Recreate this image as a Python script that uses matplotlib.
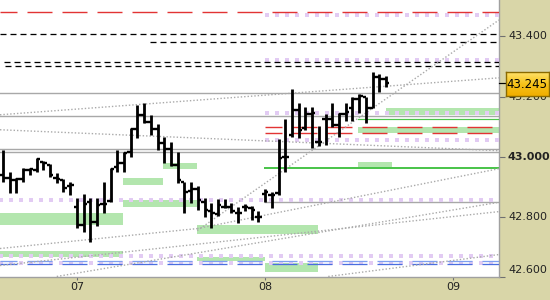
import matplotlib
matplotlib.use('Agg')
import matplotlib.pyplot as plt
import numpy as np
from matplotlib.patches import Rectangle
from matplotlib.colors import LinearSegmentedColormap

plt.rcParams['lines.scale_dashes'] = False
plt.rcParams['font.family'] = ['DejaVu Sans']

# ---------------- data ----------------
opens = [42.940, 42.930, 42.924, 42.927, 42.957, 42.957, 42.983, 42.974, 42.930, 42.924,
         42.904, 42.834, 42.774, 42.851, 42.784, 42.844, 42.854, 42.967, 42.980, 43.017,
         43.093, 43.140, 43.116, 43.093, 43.047, 43.027, 42.974, 42.917, 42.887, 42.891,
         42.851, 42.818, 42.811, 42.834, 42.834, 42.814, 42.834, 42.831, 42.801, 42.877,
         42.874, 42.881, 43.000, 43.073, 43.156, 43.096, 43.143, 43.050, 43.126, 43.126,
         43.106, 43.143, 43.163, 43.193, 43.199, 43.163, 43.266, 43.259]
highs = [43.023, 42.950, 42.930, 42.964, 42.964, 42.997, 42.987, 42.977, 42.947, 42.927,
         42.917, 42.864, 42.877, 42.864, 42.864, 42.917, 42.964, 43.023, 43.017, 43.096,
         43.173, 43.179, 43.140, 43.110, 43.066, 43.050, 43.017, 42.917, 42.917, 42.901,
         42.864, 42.847, 42.861, 42.861, 42.847, 42.834, 42.844, 42.837, 42.818, 42.894,
         42.884, 43.060, 43.126, 43.226, 43.179, 43.166, 43.166, 43.103, 43.143, 43.179,
         43.146, 43.179, 43.199, 43.209, 43.199, 43.282, 43.276, 43.269]
lows = [42.917, 42.881, 42.881, 42.917, 42.940, 42.950, 42.957, 42.934, 42.914, 42.884,
        42.874, 42.764, 42.751, 42.718, 42.768, 42.814, 42.851, 42.950, 42.950, 43.000,
        43.063, 43.113, 43.073, 43.023, 42.980, 42.970, 42.914, 42.814, 42.847, 42.824,
        42.801, 42.764, 42.804, 42.828, 42.814, 42.781, 42.818, 42.791, 42.784, 42.851,
        42.828, 42.874, 42.950, 43.066, 43.063, 43.090, 43.030, 43.037, 43.040, 43.100,
        43.066, 43.120, 43.120, 43.146, 43.113, 43.163, 43.216, 43.232]
closes = [42.930, 42.924, 42.927, 42.957, 42.960, 42.993, 42.980, 42.940, 42.927, 42.897,
          42.907, 42.774, 42.844, 42.784, 42.841, 42.844, 42.960, 42.980, 43.013, 43.093,
          43.140, 43.116, 43.093, 43.047, 43.027, 42.974, 42.924, 42.884, 42.891, 42.857,
          42.824, 42.814, 42.841, 42.834, 42.818, 42.814, 42.834, 42.824, 42.801, 42.884,
          42.874, 42.997, 43.000, 43.156, 43.090, 43.143, 43.146, 43.050, 43.126, 43.106,
          43.143, 43.149, 43.193, 43.203, 43.163, 43.266, 43.259, 43.245]

day_labels = ['07', '08', '09']
day_bars = [11, 39, 67]
price_ticks = [42.6, 42.8, 43.0, 43.2, 43.4]
last_price = 43.245

# horizontal levels (price) and the bar index where each begins
red_levels = [43.480, 43.098, 43.078]
red_starts = [None, 39, 39]
black_levels = [43.408, 43.381, 43.314, 43.301]
black_starts = [None, 21.9, 0.15, 0.3]
gray_levels = [43.212, 43.135, 43.026, 43.017, 42.851]
gray_starts = [None, None, None, None, 39]
lavender_levels = [43.471, 43.320, 43.147, 43.054, 42.855, 42.671, 42.648]
lavender_starts = [39, 39, 39, 39, None, None, None]
blue_levels = [42.652, 42.644]
green_levels = [43.125, 42.962]
green_starts = [52.8, 39]

# zones: (start bar, end bar, low price, high price); None = edge of chart
zone_start = [57.0, 52.8, 52.8, 17.86, 23.8, None, 17.86, 28.8, None, 28.8, 39.0]
zone_end = [None, None, 57.9, 23.8, 28.8, 17.86, 28.8, 46.9, 17.86, 39.0, 46.9]
zone_low = [43.139, 43.080, 42.964, 42.907, 42.960, 42.774, 42.834, 42.744, 42.668, 42.652, 42.618]
zone_high = [43.163, 43.100, 42.984, 42.930, 42.980, 42.814, 42.857, 42.774, 42.685, 42.668, 42.648]

# dotted trend lines: (bar0, price0, bar1, price1); None = chart edge
trend_x0 = [None, None, 28.9, 28.9, None, 8.0, None, 48.4]
trend_p0 = [43.1395, 43.0897, 42.7544, 42.7610, 42.6947, 42.6017, 42.6382, 42.6017]
trend_x1 = [None, None, None, None, 28.9, 73.5, None, None]
trend_p1 = [43.2623, 43.0200, 43.4548, 42.9602, 42.7610, 42.8474, 42.8175, 42.6747]

# ---------------- figure ----------------
PT = 0.72  # points per pixel at dpi 100
khaki = '#d9d6a8'
fig = plt.figure(figsize=(5.5, 3), dpi=100)
fig.patch.set_facecolor(khaki)
ax = fig.add_axes([0, 23 / 300, 499 / 550, 277 / 300])
ax.set_facecolor('white')
XL, XR = -0.446, 73.81
ax.set_xlim(XL, XR)
ax.set_ylim(42.6017, 43.5212)

def sx(v, default):
    return default if v is None else v

# zones
for s, e, lo, hi in zip(zone_start, zone_end, zone_low, zone_high):
    s = sx(s, XL - 1)
    e = sx(e, XR + 1)
    ax.add_patch(Rectangle((s, lo), e - s, hi - lo, facecolor='#b3e6ae',
                           edgecolor='none', zorder=1))

# gray solid
for p, s in zip(gray_levels, gray_starts):
    ax.plot([sx(s, XL - 1), XR + 1], [p, p], color='#a8a8a8', lw=1.4 * PT, zorder=2)

# lavender square-dotted
for p, s in zip(lavender_levels, lavender_starts):
    ax.plot([sx(s, XL - 1), XR + 1], [p, p], color='#e2cbf3', lw=4 * PT,
            linestyle=(0, (4 * PT, 6 * PT)), solid_capstyle='butt',
            dash_capstyle='butt', zorder=3)

# blue dashed
for p, c in zip(blue_levels, ['#7f9ff0', '#4a6ee0']):
    ax.plot([XL, XR + 1], [p, p], color=c, lw=1.3 * PT,
            linestyle=(8 * PT, (25 * PT, 10 * PT)), dash_capstyle='butt', zorder=4)

# red dashed
for p, s in zip(red_levels, red_starts):
    ax.plot([sx(s, XL), XR + 1], [p, p], color='#e23434', lw=1.4 * PT,
            linestyle=(8 * PT, (25 * PT, 10 * PT)), dash_capstyle='butt', zorder=4)

# black dashed
for p, s in zip(black_levels, black_starts):
    ax.plot([sx(s, XL), XR + 1], [p, p], color='black', lw=1.3 * PT,
            linestyle=(0, (6 * PT, 4 * PT)), dash_capstyle='butt', zorder=4)

# green solid
for p, s, w in zip(green_levels, green_starts, [1.2, 2.0]):
    ax.plot([s, XR + 1], [p, p], color='#4cc44c', lw=w * PT, zorder=4)

# dotted trend lines
for x0, p0, x1, p1 in zip(trend_x0, trend_p0, trend_x1, trend_p1):
    ax.plot([sx(x0, XL), sx(x1, XR)], [p0, p1], color='#aaaaaa', lw=1.4 * PT,
            linestyle=(0, (1.4 * PT, 2.0 * PT)), dash_capstyle='butt', zorder=5)

# OHLC bars
idx = np.arange(len(opens))
ax.vlines(idx, lows, highs, color='black', lw=2.8 * PT, zorder=10)
ax.hlines(opens, idx - 0.5, idx, color='black', lw=2.4 * PT, zorder=10)
ax.hlines(closes, idx, idx + 0.5, color='black', lw=2.4 * PT, zorder=10)

# spines
for s in ['top', 'left']:
    ax.spines[s].set_visible(False)
for s in ['right', 'bottom']:
    ax.spines[s].set_color('#a0a0a0')
    ax.spines[s].set_linewidth(1.0)

# y ticks on the right
ax.yaxis.tick_right()
ax.set_yticks(price_ticks)
ax.set_yticklabels([])
ax.tick_params(axis='y', length=6 * PT, width=0.8, color='#707070', direction='out')
ytr = ax.get_yaxis_transform()
for p in price_ticks:
    yy = p if p > 42.61 else p + 7 / 301.25
    ax.text(508 / 499, yy, f'{p:.3f}', transform=ytr, ha='left', va='center',
            fontsize=8, color='#222222',
            fontweight='bold' if abs(p - 43.0) < 1e-9 else 'normal', clip_on=False,
            zorder=20)

# x ticks
ax.set_xticks(day_bars)
ax.set_xticklabels(day_labels, fontsize=8, color='#222222')
ax.tick_params(axis='x', length=3 * PT, width=0.8, color='#707070', pad=1.5)

# last price marker
ax.plot([XR, XR + 6 / 6.72], [last_price, last_price], color='black', lw=1.2 * PT,
        clip_on=False, zorder=20)
bx = fig.add_axes([505.5 / 550, (300 - 96) / 300, 43.5 / 550, 24 / 300])
cmap = LinearSegmentedColormap.from_list('gold', ['#ffe26a', '#f6c21a', '#f0ae00'])
bx.imshow(np.linspace(0, 1, 50).reshape(-1, 1), aspect='auto', cmap=cmap,
          extent=(0, 1, 0, 1), origin='upper')
bx.set_xlim(0, 1)
bx.set_ylim(0, 1)
bx.set_xticks([])
bx.set_yticks([])
for s in bx.spines.values():
    s.set_color('#8a6a00')
    s.set_linewidth(1.0)
bx.text(0.5, 0.5, f'{last_price:.3f}', ha='center', va='center', fontsize=8.5,
        color='black', transform=bx.transAxes)

fig.savefig('out.png', dpi=100, facecolor=khaki)
